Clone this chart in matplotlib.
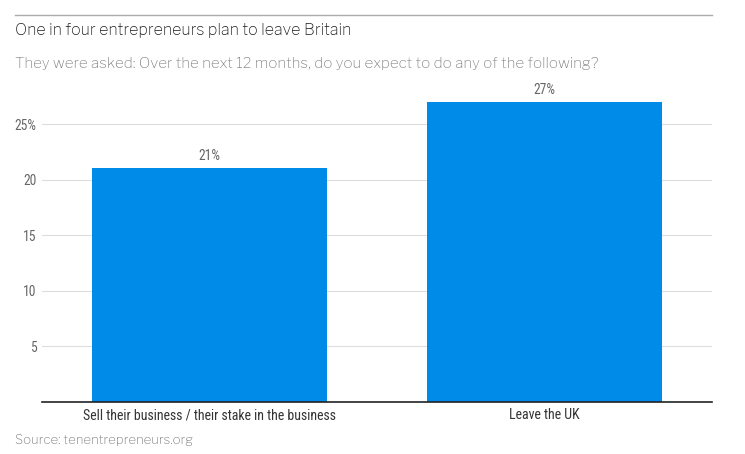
import matplotlib.pyplot as plt
from matplotlib.lines import Line2D

categories = ['Sell their business / their stake in the business', 'Leave the UK']
values = [21, 27]
yticks = [5, 10, 15, 20, 25]
ytick_labels = ['5', '10', '15', '20', '25%']

bar_color = '#008be8'
narrow = ['Roboto Condensed', 'DejaVu Sans']
serif_free = ['Libre Franklin', 'DejaVu Sans']

fig = plt.figure(figsize=(7.45, 4.54), dpi=100)
ax = fig.add_axes([0.0564, 0.1156, 0.8993, 0.6844])

x = range(len(categories))
bars = ax.bar(x, values, width=0.7, color=bar_color, zorder=2)
for b, v in zip(bars, values):
    ax.text(b.get_x() + b.get_width() / 2, v + 0.45, f'{v}%', ha='center', va='bottom',
            fontsize=9.8, color='#666666', family=narrow)

ax.set_xlim(-0.5, 1.5)
ax.set_ylim(0, 28)
ax.set_yticks(yticks)
ax.set_yticklabels(ytick_labels, family=narrow, fontsize=9.8, color='#666666')
ax.set_xticks(list(x))
ax.set_xticklabels(categories, family=narrow, fontsize=10, color='#333333')
ax.grid(axis='y', color='#dddddd', linewidth=0.8, zorder=0)
ax.tick_params(axis='both', length=0, pad=4)
ax.tick_params(axis='x', pad=5)
for side in ['top', 'right', 'left']:
    ax.spines[side].set_visible(False)
ax.spines['bottom'].set_color('#222222')
ax.spines['bottom'].set_linewidth(1.2)
ax.spines['bottom'].set_zorder(3)

# header rule and texts
fig.add_artist(Line2D([15 / 745, 712 / 745], [1 - 15 / 454, 1 - 15 / 454],
                      color='#aaaaaa', linewidth=1))
fig.text(15 / 745, 1 - 31 / 454, 'One in four entrepreneurs plan to leave Britain',
         fontsize=11.5, color='#1a1a1a', family=serif_free, va='center')
fig.text(15 / 745, 1 - 64 / 454,
         'They were asked: Over the next 12 months, do you expect to do any of the following?',
         fontsize=10.9, color='#808080', family=serif_free, va='center')
fig.text(15 / 745, 1 - 440 / 454, 'Source: tenentrepreneurs.org',
         fontsize=9.5, color='#777777', family=serif_free, va='center')

plt.savefig('out.png', dpi=100)
